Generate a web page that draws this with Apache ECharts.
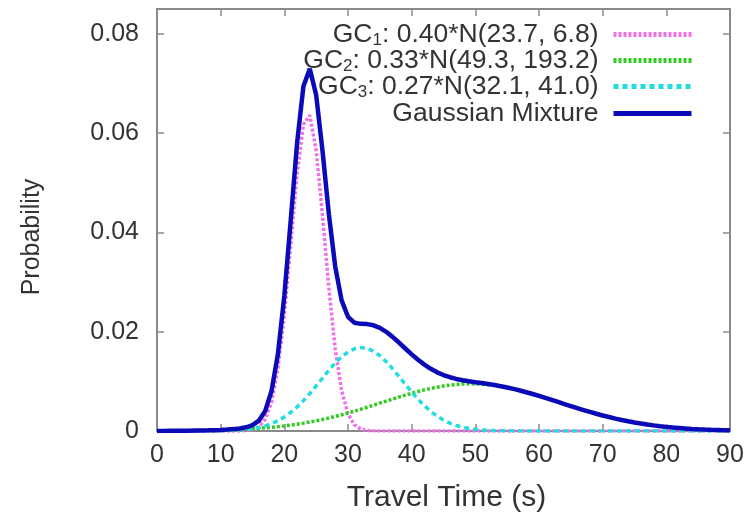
<!DOCTYPE html>
<html>
<head>
<meta charset="utf-8">
<script src="https://cdn.jsdelivr.net/npm/echarts@6/dist/echarts.min.js"></script>
<style>
  html, body { margin: 0; padding: 0; background: #fff; }
  #chart { width: 753px; height: 514px; }
</style>
</head>
<body>
<div id="chart"></div>
<script>
// Travel time samples (s), one per second from 0 to 90
const travelTime = [
  0, 1, 2, 3, 4, 5, 6, 7, 8, 9,
  10, 11, 12, 13, 14, 15, 16, 17, 18, 19,
  20, 21, 22, 23, 24, 25, 26, 27, 28, 29,
  30, 31, 32, 33, 34, 35, 36, 37, 38, 39,
  40, 41, 42, 43, 44, 45, 46, 47, 48, 49,
  50, 51, 52, 53, 54, 55, 56, 57, 58, 59,
  60, 61, 62, 63, 64, 65, 66, 67, 68, 69,
  70, 71, 72, 73, 74, 75, 76, 77, 78, 79,
  80, 81, 82, 83, 84, 85, 86, 87, 88, 89,
  90
];

// Component GC1: 0.40*N(23.7, 6.8)
const gc1 = [
  0, 0, 0, 0, 0, 0, 0, 0, 0, 0,
  0, 0, 0, 0.00001, 0.00006, 0.00025, 0.00082, 0.00236, 0.00587, 0.01261,
  0.02339, 0.03744, 0.05175, 0.06173, 0.06358, 0.05652, 0.04338, 0.02874, 0.01643, 0.00811,
  0.00346, 0.00127, 0.00040, 0.00011, 0.00003, 0, 0, 0, 0, 0,
  0, 0, 0, 0, 0, 0, 0, 0, 0, 0,
  0, 0, 0, 0, 0, 0, 0, 0, 0, 0,
  0, 0, 0, 0, 0, 0, 0, 0, 0, 0,
  0, 0, 0, 0, 0, 0, 0, 0, 0, 0,
  0, 0, 0, 0, 0, 0, 0, 0, 0, 0,
  0
];

// Component GC2: 0.33*N(49.3, 193.2)
const gc2 = [
  0.00002, 0.00002, 0.00003, 0.00004, 0.00005, 0.00006, 0.00007, 0.00009, 0.00012, 0.00014,
  0.00018, 0.00021, 0.00026, 0.00031, 0.00038, 0.00045, 0.00054, 0.00064, 0.00075, 0.00088,
  0.00103, 0.00120, 0.00138, 0.00159, 0.00181, 0.00206, 0.00233, 0.00262, 0.00294, 0.00327,
  0.00362, 0.00399, 0.00438, 0.00478, 0.00518, 0.00560, 0.00601, 0.00642, 0.00683, 0.00722,
  0.00759, 0.00795, 0.00828, 0.00857, 0.00883, 0.00906, 0.00924, 0.00937, 0.00946, 0.00950,
  0.00949, 0.00943, 0.00932, 0.00917, 0.00897, 0.00873, 0.00846, 0.00815, 0.00781, 0.00745,
  0.00706, 0.00667, 0.00626, 0.00585, 0.00543, 0.00502, 0.00462, 0.00422, 0.00384, 0.00348,
  0.00313, 0.00281, 0.00250, 0.00222, 0.00196, 0.00172, 0.00150, 0.00130, 0.00113, 0.00097,
  0.00083, 0.00070, 0.00060, 0.00050, 0.00042, 0.00035, 0.00029, 0.00024, 0.00020, 0.00016,
  0.00013
];

// Component GC3: 0.27*N(32.1, 41.0)
const gc3 = [
  0, 0, 0, 0, 0, 0, 0, 0.00001, 0.00001, 0.00003,
  0.00004, 0.00007, 0.00012, 0.00020, 0.00031, 0.00048, 0.00071, 0.00104, 0.00149, 0.00207,
  0.00282, 0.00374, 0.00484, 0.00612, 0.00755, 0.00909, 0.01067, 0.01223, 0.01369, 0.01494,
  0.01592, 0.01655, 0.01680, 0.01664, 0.01608, 0.01516, 0.01396, 0.01254, 0.01099, 0.00940,
  0.00785, 0.00639, 0.00509, 0.00395, 0.00299, 0.00221, 0.00159, 0.00112, 0.00077, 0.00052,
  0.00034, 0.00022, 0.00013, 0.00008, 0.00005, 0.00003, 0.00002, 0.00001, 0, 0,
  0, 0, 0, 0, 0, 0, 0, 0, 0, 0,
  0, 0, 0, 0, 0, 0, 0, 0, 0, 0,
  0, 0, 0, 0, 0, 0, 0, 0, 0, 0,
  0
];

// Full mixture density
const mixture = [
  0.00002, 0.00002, 0.00003, 0.00004, 0.00005, 0.00006, 0.00008, 0.00010, 0.00013, 0.00017,
  0.00022, 0.00028, 0.00038, 0.00052, 0.00075, 0.00118, 0.00207, 0.00404, 0.00811, 0.01556,
  0.02724, 0.04238, 0.05797, 0.06944, 0.07294, 0.06767, 0.05638, 0.04359, 0.03306, 0.02632,
  0.02300, 0.02181, 0.02158, 0.02153, 0.02129, 0.02076, 0.01997, 0.01896, 0.01782, 0.01662,
  0.01544, 0.01434, 0.01337, 0.01252, 0.01182, 0.01127, 0.01083, 0.01049, 0.01023, 0.01002,
  0.00983, 0.00965, 0.00945, 0.00925, 0.00902, 0.00876, 0.00848, 0.00816, 0.00781, 0.00745,
  0.00706, 0.00667, 0.00626, 0.00585, 0.00543, 0.00502, 0.00462, 0.00422, 0.00384, 0.00348,
  0.00313, 0.00281, 0.00250, 0.00222, 0.00196, 0.00172, 0.00150, 0.00130, 0.00113, 0.00097,
  0.00083, 0.00070, 0.00060, 0.00050, 0.00042, 0.00035, 0.00029, 0.00024, 0.00020, 0.00016,
  0.00013
];

const seriesNames = [
  'GC{sub|1}: 0.40*N(23.7, 6.8)',
  'GC{sub|2}: 0.33*N(49.3, 193.2)',
  'GC{sub|3}: 0.27*N(32.1, 41.0)',
  'Gaussian Mixture'
];

const xTicks = [0, 10, 20, 30, 40, 50, 60, 70, 80, 90];
const yTicks = [0, 0.02, 0.04, 0.06, 0.08];

const pairs = ys => travelTime.map((t, i) => [t, ys[i]]);

const FONT = '"Liberation Sans", Arial, Helvetica, sans-serif';
const TEXT = '#333333';
const FRAME = '#8a8a8a';

const rich = {
  sub: { fontSize: 17, fontFamily: FONT, color: TEXT, padding: [12, 0, 0, 0] }
};

// One legend block per row so every row is right-aligned against its line sample
function legendRow(name, top) {
  return {
    data: [name],
    right: 54,
    top: top,
    orient: 'vertical',
    align: 'right',
    itemWidth: 78,
    itemHeight: 12,
    itemStyle: { opacity: 0 },
    lineStyle: { width: 5 },
    textStyle: { fontFamily: FONT, fontSize: 26.5, color: TEXT, padding: [0, 10, 0, 0], rich: rich },
    selectedMode: false
  };
}

const chart = echarts.init(document.getElementById('chart'), null, { renderer: 'canvas' });

const tickStyle = { show: true, inside: true, length: 7, lineStyle: { color: FRAME, width: 1.5 } };
const frameLine = { show: true, onZero: false, lineStyle: { color: FRAME, width: 2 } };

chart.setOption({
  animation: false,
  backgroundColor: '#ffffff',
  grid: { left: 157, right: 23, top: 9, bottom: 83, outerBoundsMode: 'none' },
  legend: [
    legendRow(seriesNames[0], 16),
    legendRow(seriesNames[1], 42),
    legendRow(seriesNames[2], 68),
    legendRow(seriesNames[3], 95)
  ],
  xAxis: [
    {
      type: 'value', min: xTicks[0], max: xTicks[xTicks.length - 1], interval: 10,
      axisLine: frameLine, axisTick: tickStyle, splitLine: { show: false },
      axisLabel: { fontFamily: FONT, fontSize: 25, color: TEXT, margin: 12 },
      name: 'Travel Time (s)', nameLocation: 'middle', nameGap: 52,
      nameTextStyle: { fontFamily: FONT, fontSize: 30, color: TEXT, padding: [0, 0, 0, 6] }
    },
    {
      type: 'value', position: 'top', min: xTicks[0], max: xTicks[xTicks.length - 1], interval: 10,
      axisLine: frameLine, axisTick: tickStyle, splitLine: { show: false },
      axisLabel: { show: false }
    }
  ],
  yAxis: [
    {
      type: 'value', min: yTicks[0], max: 0.085, interval: 0.02,
      axisLine: frameLine, axisTick: tickStyle, splitLine: { show: false },
      axisLabel: {
        fontFamily: FONT, fontSize: 25, color: TEXT, margin: 18, showMaxLabel: false,
        formatter: v => (yTicks.some(t => Math.abs(t - v) < 1e-9) ? String(+v.toFixed(2)) : '')
      },
      name: 'Probability', nameLocation: 'middle', nameGap: 112,
      nameTextStyle: { fontFamily: FONT, fontSize: 25, color: TEXT, padding: [0, 0, 0, -34] }
    },
    {
      type: 'value', position: 'right', min: yTicks[0], max: 0.085, interval: 0.02,
      axisLine: frameLine, axisTick: tickStyle, splitLine: { show: false },
      axisLabel: { show: false }
    }
  ],
  series: [
    {
      name: seriesNames[0], type: 'line', data: pairs(gc1), symbol: 'none',
      lineStyle: { color: '#f070e8', width: 3.5, type: [3, 2] },
      itemStyle: { color: '#f070e8' }, z: 3
    },
    {
      name: seriesNames[1], type: 'line', data: pairs(gc2), symbol: 'none',
      lineStyle: { color: '#33cc22', width: 3.5, type: [3, 2] },
      itemStyle: { color: '#33cc22' }, z: 3
    },
    {
      name: seriesNames[2], type: 'line', data: pairs(gc3), symbol: 'none',
      lineStyle: { color: '#22dde0', width: 3.5, type: [5, 4] },
      itemStyle: { color: '#22dde0' }, z: 3
    },
    {
      name: seriesNames[3], type: 'line', data: pairs(mixture), symbol: 'none',
      lineStyle: { color: '#0a0ab8', width: 4.5 },
      itemStyle: { color: '#0a0ab8' }, z: 4
    }
  ]
});
</script>
</body>
</html>
